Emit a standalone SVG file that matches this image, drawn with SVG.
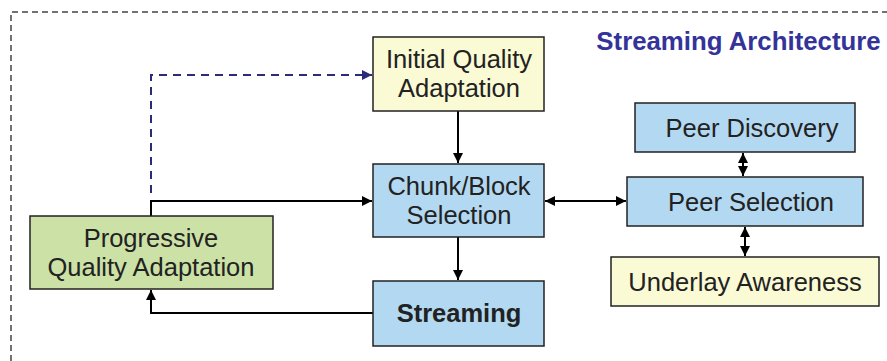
<svg xmlns="http://www.w3.org/2000/svg" width="887" height="361" viewBox="0 0 887 361">
  <defs>
    <marker id="arr" viewBox="0 0 10 10" refX="10" refY="5" markerWidth="5" markerHeight="5" orient="auto-start-reverse" markerUnits="strokeWidth">
      <path d="M0,0 L10,5 L0,10 z" fill="#000"/>
    </marker>
    <marker id="arrBlue" viewBox="0 0 10 10" refX="10" refY="5" markerWidth="5" markerHeight="5" orient="auto" markerUnits="strokeWidth">
      <path d="M0,0 L10,5 L0,10 z" fill="#2b2b7a"/>
    </marker>
    <style>
      .box { stroke: #222; stroke-width: 1.5; }
      .blue { fill: #b3d8f1; }
      .yellow { fill: #fafad4; }
      .green { fill: #cbe1a6; }
      .lbl { font-family: "Liberation Sans", Arial, sans-serif; font-size: 25.5px; fill: #222; text-anchor: middle; }
      .bold { font-weight: bold; }
      .conn { fill: none; stroke: #000; stroke-width: 2; }
      .dash { fill: none; stroke: #2b2b7a; stroke-width: 2; stroke-dasharray: 8 6; }
    </style>
  </defs>

  <!-- outer dashed frame -->
  <path d="M11,361 L11,12 L887,12" fill="none" stroke="#444" stroke-width="1.5" stroke-dasharray="6 4"/>
  <text x="738.5" y="50" font-family="Liberation Sans, Arial, sans-serif" font-size="25.8" font-weight="bold" fill="#333399" text-anchor="middle">Streaming Architecture</text>

  <!-- connectors -->
  <g id="connectors">
    <path class="dash" d="M151,193 L151,75 L372,75" marker-end="url(#arrBlue)"/>
    <path class="conn" d="M151,216 L151,201 L372,201" marker-end="url(#arr)"/>
    <path class="conn" d="M458,111 L458,163" marker-end="url(#arr)"/>
    <path class="conn" d="M458,237 L458,280" marker-end="url(#arr)"/>
    <path class="conn" d="M373,313 L151,313 L151,290" marker-end="url(#arr)"/>
    <path class="conn" d="M545,201 L626,201" marker-start="url(#arr)" marker-end="url(#arr)"/>
    <path class="conn" d="M743,153 L743,176" marker-start="url(#arr)" marker-end="url(#arr)"/>
    <path class="conn" d="M745,227 L745,256" marker-start="url(#arr)" marker-end="url(#arr)"/>
  </g>

  <g id="initial-quality">
    <rect class="box yellow" x="373" y="37" width="171" height="74"/>
    <text class="lbl" x="459" y="68">Initial Quality</text>
    <text class="lbl" x="459" y="97">Adaptation</text>
  </g>

  <g id="chunk-selection">
    <rect class="box blue" x="373" y="164" width="171" height="73"/>
    <text class="lbl" x="459" y="195">Chunk/Block</text>
    <text class="lbl" x="459" y="224">Selection</text>
  </g>

  <g id="streaming">
    <rect class="box blue" x="373" y="281" width="171" height="65"/>
    <text class="lbl bold" x="459" y="322">Streaming</text>
  </g>

  <g id="progressive-quality">
    <rect class="box green" x="30" y="216" width="243" height="73"/>
    <text class="lbl" x="151" y="247">Progressive</text>
    <text class="lbl" x="151" y="276">Quality Adaptation</text>
  </g>

  <g id="peer-discovery">
    <rect class="box blue" x="635" y="103" width="220" height="49"/>
    <text class="lbl" x="752" y="137">Peer Discovery</text>
  </g>

  <g id="peer-selection">
    <rect class="box blue" x="627" y="177" width="236" height="49"/>
    <text class="lbl" x="751" y="211">Peer Selection</text>
  </g>

  <g id="underlay-awareness">
    <rect class="box yellow" x="611" y="257" width="268" height="49"/>
    <text class="lbl" x="745" y="291">Underlay Awareness</text>
  </g>
</svg>
